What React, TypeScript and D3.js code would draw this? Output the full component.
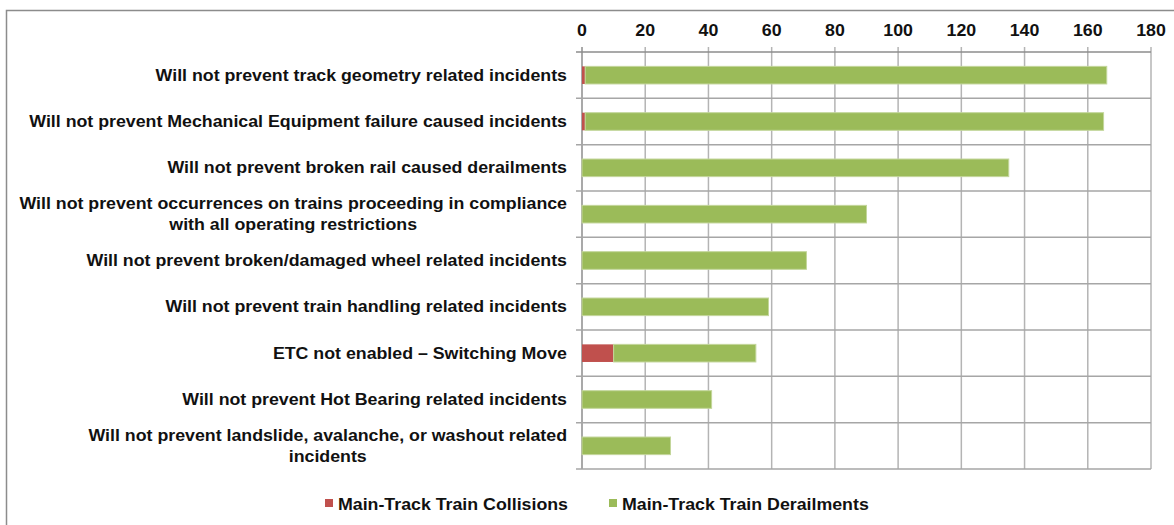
import React, { useEffect, useRef } from "react";
import * as d3 from "d3";

const categories: string[][] = [
  ["Will not prevent track geometry related incidents"],
  ["Will not prevent Mechanical Equipment failure caused incidents"],
  ["Will not prevent broken rail caused derailments"],
  ["Will not prevent occurrences on trains proceeding in compliance", "with all operating restrictions"],
  ["Will not prevent broken/damaged wheel related incidents"],
  ["Will not prevent train handling related incidents"],
  ["ETC not enabled \u2013 Switching Move"],
  ["Will not prevent Hot Bearing related incidents"],
  ["Will not prevent landslide, avalanche, or washout related", "incidents"],
];
const collisions: number[] = [1, 1, 0, 0, 0, 0, 10, 0, 0];
const derailments: number[] = [165, 164, 135, 90, 71, 59, 45, 41, 28];
const xTicks: number[] = [0, 20, 40, 60, 80, 100, 120, 140, 160, 180];
const seriesNames: string[] = ["Main-Track Train Collisions", "Main-Track Train Derailments"];
const seriesColors: string[] = ["#C0504D", "#9BBB59"];

const W = 1174;
const H = 525;
const FONT = "'Liberation Sans', Arial, sans-serif";
const FS = 16;
const SX = 1.11;

export default function App() {
  const ref = useRef<SVGSVGElement>(null);

  useEffect(() => {
    const svg = d3.select(ref.current);
    svg.selectAll("*").remove();

    const left = 582, right = 1151, top = 52, bottom = 469;
    const x = d3.scaleLinear().domain([0, 180]).range([left, right]);
    const y = d3.scaleBand<number>().domain(d3.range(categories.length)).range([top, bottom]).paddingInner(0).paddingOuter(0);

    const stretch = (t: d3.Selection<SVGTextElement, any, any, any>) => {
      t.each(function () {
        const n = this as SVGTextElement;
        const w = n.getComputedTextLength();
        d3.select(n).attr("textLength", w * SX).attr("lengthAdjust", "spacingAndGlyphs");
      });
      return t;
    };

    // outer frame
    svg.append("rect").attr("x", 6.5).attr("y", 10.5).attr("width", W + 10).attr("height", H + 10)
      .attr("fill", "white").attr("stroke", "#8c8c8c").attr("stroke-width", 1.5);

    const g = svg.append("g");

    // vertical gridlines
    g.selectAll("line.vg").data(xTicks).enter().append("line")
      .attr("x1", (d) => x(d)).attr("x2", (d) => x(d))
      .attr("y1", top - 5).attr("y2", bottom)
      .attr("stroke", (d) => (d === 0 ? "#8c8c8c" : "#b4b4b4")).attr("stroke-width", 1.5);

    // horizontal boundaries
    const bounds = d3.range(categories.length + 1).map((i) => top + i * y.step());
    g.selectAll("line.hg").data(bounds).enter().append("line")
      .attr("x1", left - 6).attr("x2", right)
      .attr("y1", (d) => d).attr("y2", (d) => d)
      .attr("stroke", (d, i) => (i === 0 ? "#8c8c8c" : "#a6a6a6")).attr("stroke-width", 1.5);

    // tick labels
    const tl = g.selectAll("text.xt").data(xTicks).enter().append("text")
      .attr("x", (d) => x(d)).attr("y", 36)
      .attr("text-anchor", "middle")
      .attr("font-family", FONT).attr("font-weight", "bold").attr("font-size", FS)
      .attr("fill", "#111")
      .text((d) => String(d));
    stretch(tl as any);

    // bars
    const bh = y.step() * 0.38;
    categories.forEach((_, i) => {
      const cy = (y(i) as number) + y.step() / 2;
      const c = collisions[i];
      const dv = derailments[i];
      if (c > 0) {
        g.append("rect").attr("x", x(0)).attr("y", cy - bh / 2)
          .attr("width", x(c) - x(0)).attr("height", bh).attr("fill", seriesColors[0]);
      }
      g.append("rect").attr("x", x(c)).attr("y", cy - bh / 2)
        .attr("width", x(c + dv) - x(c)).attr("height", bh).attr("fill", seriesColors[1])
        .attr("stroke", "#c3d69b").attr("stroke-width", 1);
    });

    // category labels
    const labelRight = 567;
    const lh = 21;
    categories.forEach((lines, i) => {
      const cy = (y(i) as number) + y.step() / 2;
      const tg = g.append("g");
      const texts = lines.map((ln, k) =>
        tg.append("text")
          .attr("y", cy + (k - (lines.length - 1) / 2) * lh + 5.5)
          .attr("font-family", FONT).attr("font-weight", "bold").attr("font-size", FS)
          .attr("fill", "#111")
          .text(ln)
      );
      const widths = texts.map((t) => (t.node() as SVGTextElement).getComputedTextLength() * SX);
      texts.forEach((t, k) => t.attr("textLength", widths[k]).attr("lengthAdjust", "spacingAndGlyphs"));
      const maxW = Math.max(...widths);
      const cx = labelRight - maxW / 2;
      texts.forEach((t) => t.attr("x", cx).attr("text-anchor", "middle"));
    });

    // legend
    const legX = [325, 609];
    seriesNames.forEach((name, i) => {
      g.append("rect").attr("x", legX[i]).attr("y", 499).attr("width", 8).attr("height", 8).attr("fill", seriesColors[i]);
      const t = g.append("text").attr("x", legX[i] + 13).attr("y", 509.5)
        .attr("font-family", FONT).attr("font-weight", "bold").attr("font-size", FS)
        .attr("fill", "#111").text(name);
      stretch(t as any);
    });
  }, []);

  return (
    <svg ref={ref} width={W} height={H} style={{ position: "absolute", left: 0, top: 0, display: "block" }} />
  );
}
